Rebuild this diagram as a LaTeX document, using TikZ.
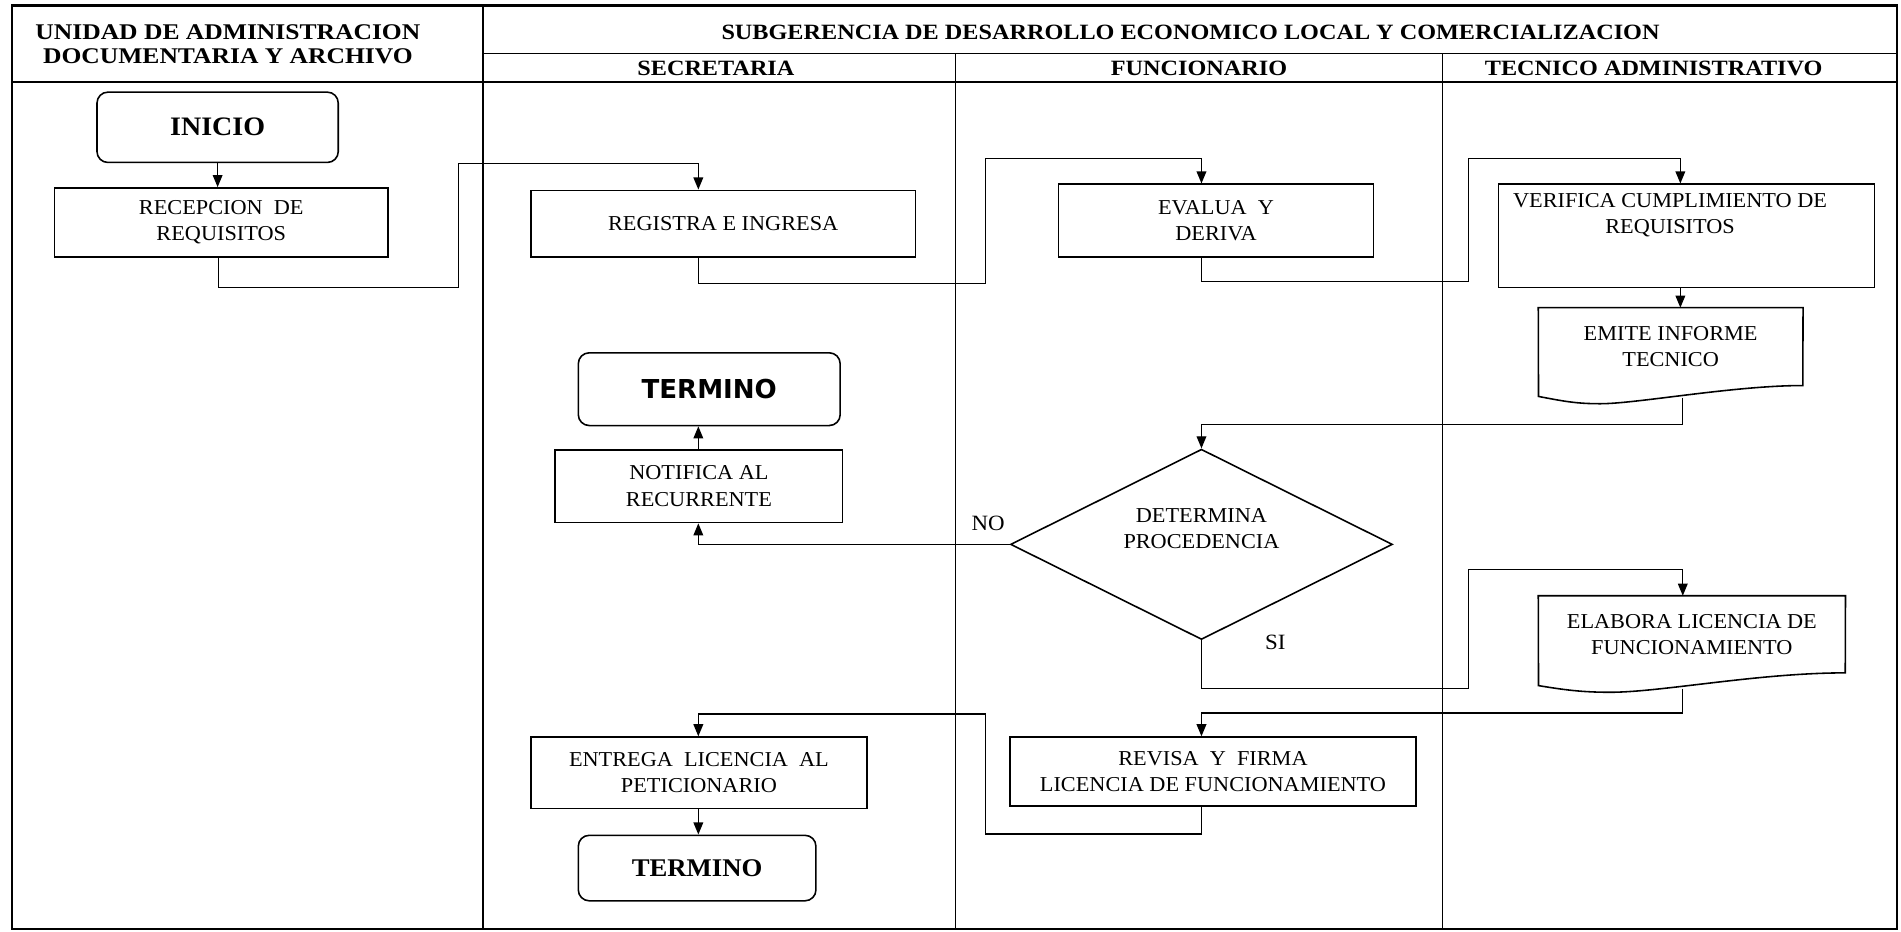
\documentclass[tikz,border=0pt]{standalone}
\usepackage{fontspec}
\setmainfont{Liberation Serif}[FakeStretch=1.05]
\newfontfamily\hdrfont{Liberation Serif}[FakeStretch=1.11]
\newfontfamily\hdrfontw{Liberation Serif}[FakeStretch=1.14]
\newfontfamily\dejavu{DejaVu Sans}
\usetikzlibrary{arrows.meta,shapes.geometric}
\begin{document}
\begin{tikzpicture}[x=1pt,y=-1pt,
  bodyfont/.style={font=\fontsize{17.5}{21.6}\selectfont},
  box/.style={draw,line width=1.3pt,inner sep=0pt,align=center,bodyfont},
  term/.style={box,rounded corners=9pt},
  txt/.style={inner sep=0pt,align=center,bodyfont},
  shapeline/.style={line width=1.3pt},
  conn/.style={line width=1.1pt},
  arr/.style={conn,-{Triangle[length=10pt,width=8pt]}},
  hdr/.style={font=\hdrfont\bfseries\fontsize{18}{20}\selectfont,align=center},
  gridline/.style={line width=1.2pt},
  lbl/.style={font=\fontsize{18}{22}\selectfont}
]
\useasboundingbox (0,0) rectangle (1568,768);
\fill[white] (0,0) rectangle (1568,768);

% table
\draw[line width=1.8pt] (10,4.5) rectangle (1564.5,766);
\draw[gridline] (398.5,4.5) -- (398.5,766);
\draw[gridline] (398.5,44) -- (1564.5,44);
\draw[gridline] (10,67.5) -- (1564.5,67.5);
\draw[gridline] (788,44) -- (788,766);
\draw[gridline] (1190,44) -- (1190,766);

\node[hdr,font=\hdrfontw\bfseries\fontsize{18.5}{19.5}\selectfont] (hU) at (188,36.3) {UNIDAD DE ADMINISTRACION\\DOCUMENTARIA Y ARCHIVO};
\node[hdr] (hS) at (982,26.5) {SUBGERENCIA DE DESARROLLO ECONOMICO LOCAL Y COMERCIALIZACION};
\node[hdr] (hSec) at (590.5,56.8) {SECRETARIA};
\node[hdr] (hFun) at (989,56.8) {FUNCIONARIO};
\node[hdr] (hTec) at (1364,56.8) {TECNICO ADMINISTRATIVO};

% nodes
\node[term,font=\bfseries\fontsize{22}{24}\selectfont,minimum width=199pt,minimum height=58pt] (inicio) at (179.5,105) {INICIO};
\node[box,minimum width=275pt,minimum height=57pt] (recep) at (182.5,183.5) {RECEPCION~ DE\\REQUISITOS};
\node[box,minimum width=317pt,minimum height=55pt] (regis) at (596.5,184.5) {REGISTRA E INGRESA};
\node[box,minimum width=260pt,minimum height=60pt] (evalua) at (1003,182) {EVALUA~ Y\\DERIVA};
\node[draw,line width=1.3pt,inner sep=0pt,minimum width=310pt,minimum height=85pt] (verif) at (1391,194.5) {};
\node[txt] (verifT) at (1377.5,177.5) {VERIFICA CUMPLIMIENTO DE\\REQUISITOS};

\node[txt,minimum width=218pt,minimum height=64pt] (emite) at (1378,286) {EMITE INFORME\\TECNICO};
\draw[shapeline] (1269,327) -- (emite.north west) -- (emite.north east) -- (1487,318)
  .. controls (1430,318) and (1350,333) .. (1320,333)
  .. controls (1300,333) and (1290,331) .. (1269,327) -- cycle;
\coordinate (emiteBot) at (1388,328);

\node[draw,diamond,shape aspect=2,line width=1.3pt,inner sep=0pt,minimum width=315pt,minimum height=157pt] (dec) at (991,449) {};
\node[txt] (decT) at (991,436) {DETERMINA\\PROCEDENCIA};

\node[box,minimum width=237pt,minimum height=60pt] (notif) at (576.5,401) {NOTIFICA AL\\RECURRENTE};
\node[term,font=\dejavu\bfseries\fontsize{21.5}{24}\selectfont,minimum width=216pt,minimum height=60pt] (term1) at (585,321) {TERMINO};

\node[txt,minimum width=253pt,minimum height=63.4pt] (elab) at (1395.5,523.3) {ELABORA LICENCIA DE\\FUNCIONAMIENTO};
\draw[shapeline] (1269,565.5) -- (elab.north west) -- (elab.north east) -- (1522,555)
  .. controls (1450,555) and (1370,571) .. (1328,571)
  .. controls (1305,571) and (1290,569) .. (1269,565.5) -- cycle;
\coordinate (elabBot) at (1388,568);

\node[box,minimum width=335pt,minimum height=57pt] (revisa) at (1000.5,636.5) {REVISA~ Y~ FIRMA\\LICENCIA DE FUNCIONAMIENTO};
\node[box,minimum width=277pt,minimum height=59pt] (entrega) at (576.5,637.5) {ENTREGA~ LICENCIA~ AL\\PETICIONARIO};
\node[term,font=\bfseries\fontsize{21}{24}\selectfont,minimum width=196pt,minimum height=54pt] (term2) at (575,716) {TERMINO};

\node[lbl] (no) at (815,432) {NO};
\node[lbl] (si) at (1052,530) {SI};

% connectors
\draw[arr] (inicio.south) -- (inicio.south |- recep.north);
\draw[arr] (recep.south -| 180,0) -- (180,237) -- (378,237) -- (378,135) -- (576,135) -- (regis.north -| 576,0);
\draw[arr] (regis.south -| 576,0) -- (576,234) -- (813,234) -- (813,131) -- (991,131) -- (evalua.north -| 991,0);
\draw[arr] (evalua.south -| 991,0) -- (991,232) -- (1211,232) -- (1211,131) -- (1386,131) -- (verif.north -| 1386,0);
\draw[arr] (verif.south -| 1386,0) -- (emite.north -| 1386,0);
\draw[arr] (emiteBot) -- (1388,350) -- (991,350) -- (dec.north);
\draw[arr] (dec.west) -- (576,449) -- (notif.south -| 576,0);
\draw[arr] (notif.north -| 576,0) -- (term1.south -| 576,0);
\draw[arr] (dec.south) -- (991,568) -- (1211,568) -- (1211,470) -- (1388,470) -- (elab.north -| 1388,0);
\draw[arr] (elabBot) -- (1388,588) -- (991,588) -- (revisa.north -| 991,0);
\draw[arr] (revisa.south -| 991,0) -- (991,688) -- (813,688) -- (813,589) -- (576,589) -- (entrega.north -| 576,0);
\draw[arr] (entrega.south -| 576,0) -- (term2.north -| 576,0);
\end{tikzpicture}
\end{document}
